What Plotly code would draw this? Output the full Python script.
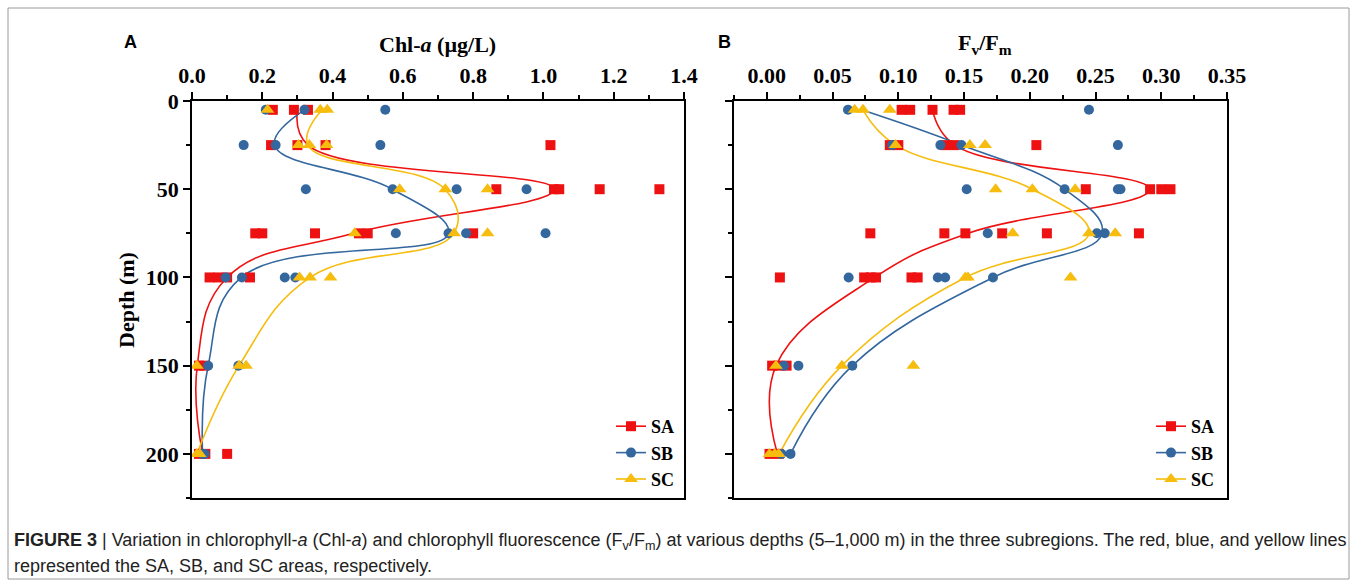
import plotly.graph_objects as go

# ---------------- data ----------------
depth_nodes = [5, 25, 50, 75, 100, 150, 200]

# Panel A : Chl-a (ug/L), observations by depth
chl_SA = {5: [0.23, 0.29, 0.33], 25: [0.225, 0.30, 0.38, 1.02],
          50: [0.866, 1.03, 1.045, 1.16, 1.33], 75: [0.18, 0.20, 0.35, 0.475, 0.50, 0.80],
          100: [0.05, 0.075, 0.10, 0.165], 150: [0.02, 0.035], 200: [0.02, 0.038, 0.10]}
chl_SB = {5: [0.21, 0.32, 0.55], 25: [0.147, 0.238, 0.536],
          50: [0.324, 0.571, 0.753, 0.952], 75: [0.58, 0.73, 0.78, 1.006],
          100: [0.096, 0.142, 0.264, 0.294], 150: [0.046, 0.132], 200: [0.03, 0.036]}
chl_SC = {5: [0.215, 0.365, 0.385], 25: [0.303, 0.334, 0.383],
          50: [0.591, 0.721, 0.841], 75: [0.463, 0.746, 0.841],
          100: [0.306, 0.336, 0.394], 150: [0.014, 0.134, 0.154], 200: [0.014, 0.022]}
chl_fit_SA = [0.30, 0.33, 1.03, 0.46, 0.10, 0.015, 0.03]
chl_fit_SB = [0.32, 0.235, 0.57, 0.73, 0.14, 0.046, 0.03]
chl_fit_SC = [0.37, 0.33, 0.72, 0.745, 0.336, 0.134, 0.014]

# Panel B : Fv/Fm, observations by depth
fv_SA = {5: [0.1025, 0.109, 0.126, 0.142, 0.147], 25: [0.0935, 0.100, 0.1356, 0.1427, 0.205],
         50: [0.2426, 0.2915, 0.300, 0.307], 75: [0.0787, 0.135, 0.151, 0.179, 0.213, 0.283],
         100: [0.0099, 0.074, 0.079, 0.083, 0.110, 0.1147], 150: [0.004, 0.0085, 0.015],
         200: [0.002, 0.009]}
fv_SB = {5: [0.0617, 0.245], 25: [0.0953, 0.132, 0.148, 0.267],
         50: [0.152, 0.2265, 0.267, 0.269], 75: [0.168, 0.251, 0.257],
         100: [0.0622, 0.130, 0.1356, 0.172], 150: [0.013, 0.024, 0.065], 200: [0.011, 0.018]}
fv_SC = {5: [0.0668, 0.0731, 0.0935], 25: [0.0979, 0.1544, 0.166],
         50: [0.174, 0.202, 0.2345], 75: [0.187, 0.245, 0.265],
         100: [0.151, 0.153, 0.231], 150: [0.0069, 0.0571, 0.1114], 200: [0.002, 0.006, 0.009]}
fv_fit_SA = [0.126, 0.143, 0.291, 0.153, 0.082, 0.007, 0.008]
fv_fit_SB = [0.072, 0.148, 0.2265, 0.255, 0.172, 0.065, 0.018]
fv_fit_SC = [0.073, 0.098, 0.202, 0.245, 0.151, 0.057, 0.0094]

series_names = ["SA", "SB", "SC"]

# ---------------- styling ----------------
W, H = 1357, 587
RED, BLUE, YEL = "#EE1111", "#33679E", "#F6BD0E"
colors = {"SA": RED, "SB": BLUE, "SC": YEL}
symbols = {"SA": "square", "SB": "circle", "SC": "triangle-up"}
msizes = {"SA": 10, "SB": 10, "SC": 12}
SERIF = "Liberation Serif, Times New Roman, serif"


def px(x):
    return x / W


def py(y):
    return 1 - y / H


def flat(d):
    ys, xs = [], []
    for dep, vals in d.items():
        for v in vals:
            ys.append(dep)
            xs.append(v)
    return xs, ys


fig = go.Figure()

panels = [
    ("x", "y", {"SA": chl_SA, "SB": chl_SB, "SC": chl_SC},
     {"SA": chl_fit_SA, "SB": chl_fit_SB, "SC": chl_fit_SC}, "legend"),
    ("x2", "y2", {"SA": fv_SA, "SB": fv_SB, "SC": fv_SC},
     {"SA": fv_fit_SA, "SB": fv_fit_SB, "SC": fv_fit_SC}, "legend2"),
]

for xa, ya, obs, fits, leg in panels:
    for s in series_names:
        fig.add_trace(go.Scatter(
            x=fits[s], y=depth_nodes, xaxis=xa, yaxis=ya, mode="lines",
            line=dict(color=colors[s], width=1.6, shape="spline", smoothing=1.2),
            showlegend=False, hoverinfo="skip"))
    for s in series_names:
        xs, ys = flat(obs[s])
        fig.add_trace(go.Scatter(
            x=xs, y=ys, xaxis=xa, yaxis=ya, mode="markers",
            marker=dict(symbol=symbols[s], size=msizes[s], color=colors[s],
                        line=dict(width=0)),
            showlegend=False))
    for s in series_names:
        fig.add_trace(go.Scatter(
            x=[None], y=[None], xaxis=xa, yaxis=ya, mode="lines+markers", name=s,
            line=dict(color=colors[s], width=1.6),
            marker=dict(symbol=symbols[s], size=msizes[s], color=colors[s]),
            legend=leg, showlegend=True))

axis_common = dict(showline=True, mirror=True, linecolor="black", linewidth=1.6,
                   showgrid=False, zeroline=False, ticks="outside", ticklen=7,
                   tickwidth=1.5, tickcolor="black", automargin=False,
                   tickfont=dict(family=SERIF, size=22, color="black", weight="bold"))
minor_common = dict(ticks="outside", tick0=0, ticklen=4, tickwidth=1.5, tickcolor="black")
legend_common = dict(xanchor="left", yanchor="top", bgcolor="rgba(0,0,0,0)",
                     borderwidth=0, tracegroupgap=0,
                     font=dict(family=SERIF, size=18, color="black", weight="bold"))

fig.update_layout(
    width=W, height=H, margin=dict(l=0, r=0, t=0, b=0, autoexpand=False),
    paper_bgcolor="white", plot_bgcolor="white",
    xaxis=dict(domain=[px(192), px(684)], anchor="y", side="top", range=[0, 1.4],
               dtick=0.2, tick0=0, tickformat=".1f",
               minor=dict(dtick=0.1, **minor_common), **axis_common),
    yaxis=dict(domain=[py(498), py(101)], anchor="x", range=[225, 0], dtick=50, tick0=0,
               minor=dict(dtick=25, **minor_common), **axis_common),
    xaxis2=dict(domain=[px(734), px(1227)], anchor="y2", side="top", range=[-0.025, 0.35],
                dtick=0.05, tick0=0, tickformat=".2f",
                minor=dict(dtick=0.025, **minor_common), **axis_common),
    yaxis2=dict(domain=[py(498), py(101)], anchor="x2", range=[225, 0], dtick=50, tick0=0,
                showticklabels=False,
                minor=dict(dtick=25, **minor_common), **axis_common),
    legend=dict(x=px(611), y=py(408), **legend_common),
    legend2=dict(x=px(1151), y=py(408), **legend_common),
    showlegend=True,
)

ann = []
ann.append(dict(x=px(130), y=py(42), text="<b>A</b>", showarrow=False,
                xref="paper", yref="paper", xanchor="center", yanchor="middle",
                font=dict(family="Liberation Sans, Arial, sans-serif", size=18, color="black")))
ann.append(dict(x=px(724), y=py(42), text="<b>B</b>", showarrow=False,
                xref="paper", yref="paper", xanchor="center", yanchor="middle",
                font=dict(family="Liberation Sans, Arial, sans-serif", size=18, color="black")))
ann.append(dict(x=px(438), y=py(44), text="<b>Chl-<i>a</i> (µg/L)</b>", showarrow=False,
                xref="paper", yref="paper", xanchor="center", yanchor="middle",
                font=dict(family=SERIF, size=22, color="black")))
ann.append(dict(x=px(985), y=py(44), text="<b>F<sub>v</sub>/F<sub>m</sub></b>", showarrow=False,
                xref="paper", yref="paper", xanchor="center", yanchor="middle",
                font=dict(family=SERIF, size=22, color="black")))
ann.append(dict(x=px(126), y=py(300), text="<b>Depth (m)</b>", showarrow=False, textangle=-90,
                xref="paper", yref="paper", xanchor="center", yanchor="middle",
                font=dict(family=SERIF, size=22, color="black")))
CAP = "Liberation Sans, Arial, sans-serif"
ann.append(dict(x=px(12), y=py(541), showarrow=False, xref="paper", yref="paper",
                xanchor="left", yanchor="middle",
                text=("<b>FIGURE 3</b> | Variation in chlorophyll-<i>a</i> (Chl-<i>a</i>) and chlorophyll "
                      "fluorescence (F<sub>v</sub>/F<sub>m</sub>) at various depths (5–1,000 m) in the three "
                      "subregions. The red, blue, and yellow lines"),
                font=dict(family=CAP, size=18, color="#222222")))
ann.append(dict(x=px(12), y=py(566), showarrow=False, xref="paper", yref="paper",
                xanchor="left", yanchor="middle",
                text="represented the SA, SB, and SC areas, respectively.",
                font=dict(family=CAP, size=18, color="#222222")))
fig.update_layout(annotations=ann)

fig.add_shape(type="rect", xref="paper", yref="paper",
              x0=px(8), x1=px(1349), y0=py(579), y1=py(8),
              line=dict(color="#9a9a9a", width=1), fillcolor="rgba(0,0,0,0)", layer="below")

fig.write_html("out.html")
